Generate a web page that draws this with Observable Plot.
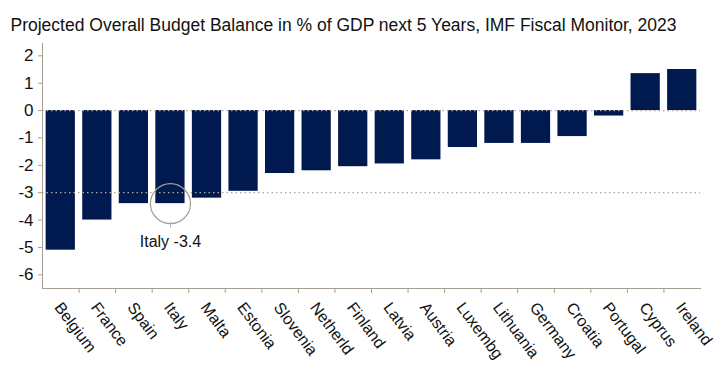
<!DOCTYPE html>
<html><head><meta charset="utf-8">
<script src="https://cdn.jsdelivr.net/npm/d3@7"></script>
<script src="https://cdn.jsdelivr.net/npm/@observablehq/plot@0.6"></script>
<style>body{margin:0;background:#fff}</style>
</head><body><div id="chart"></div>
<script>
const countries = ["Belgium","France","Spain","Italy","Malta","Estonia","Slovenia","Netherld","Finland","Latvia","Austria","Luxembg","Lithuania","Germany","Croatia","Portugal","Cyprus","Ireland"];
const balance = [-5.1,-4.0,-3.4,-3.4,-3.2,-2.95,-2.3,-2.2,-2.05,-1.95,-1.8,-1.35,-1.2,-1.2,-0.95,-0.2,1.35,1.5];
const yTicks = [2,1,0,-1,-2,-3,-4,-5,-6];
const refLines = [0,-3];
const title = "Projected Overall Budget Balance in % of GDP next 5 Years, IMF Fiscal Monitor, 2023";
const highlight = {country: "Italy", value: -3.4, label: "Italy -3.4"};

const data = countries.map((c,i)=>({country:c, value:balance[i]}));
const W = 721, H = 365, mL = 42, mR = 21;
const step = (W - mL - mR) / countries.length;
const axisColor = "#a59d92";
const yMin = -6.5, yMax = 2.45;

const chart = Plot.plot({
  width: W, height: H,
  marginLeft: mL, marginRight: mR, marginTop: 43, marginBottom: 77,
  style: {fontFamily: "Liberation Sans, Arial, sans-serif", fontSize: "15px", color: "#111", background: "#fff"},
  x: {domain: countries, paddingInner: 0.2, paddingOuter: 0.1, round: false, axis: null},
  y: {domain: [yMin, yMax], axis: null},
  marks: [
    Plot.barY(data, {x: "country", y: "value", fill: "#001a4f"}),
    Plot.ruleY(refLines, {stroke: "#b3a898", strokeDasharray: "1.5,3", strokeWidth: 1.3}),
    // y axis
    Plot.frame({anchor: "left", stroke: axisColor}),
    Plot.axisY(yTicks, {anchor: "left", label: null, tickSize: 4, tickPadding: 5, stroke: axisColor, fill: "#111", fontSize: 17, tickFormat: d => d}),
    // x axis
    Plot.frame({anchor: "bottom", stroke: axisColor}),
    Plot.ruleX(countries.slice(1), {x: d => d, y1: yMin, y2: yMin - 0.18, dx: -step/2, stroke: axisColor}),
    Plot.axisX({anchor: "bottom", label: null, tickSize: 0, tickRotate: 53, tickPadding: 16, dx: -3, fontSize: 16, fill: "#111"}),
    // highlight
    Plot.dot([highlight], {x: "country", y: "value", r: 20, stroke: "#a89f94", fill: "none", strokeWidth: 1.2}),
    Plot.ruleX([highlight], {x: "country", y1: -4.08, y2: -4.3, stroke: "#b8b0a6"}),
    Plot.text([highlight], {x: "country", y: -4.78, text: "label", fontSize: 16, fill: "#111"}),
    Plot.text([title], {frameAnchor: "top-left", dx: -32, dy: -25, fontSize: 17.5, fill: "#111", textAnchor: "start"})
  ]
});
document.getElementById("chart").appendChild(chart);
</script></body></html>
